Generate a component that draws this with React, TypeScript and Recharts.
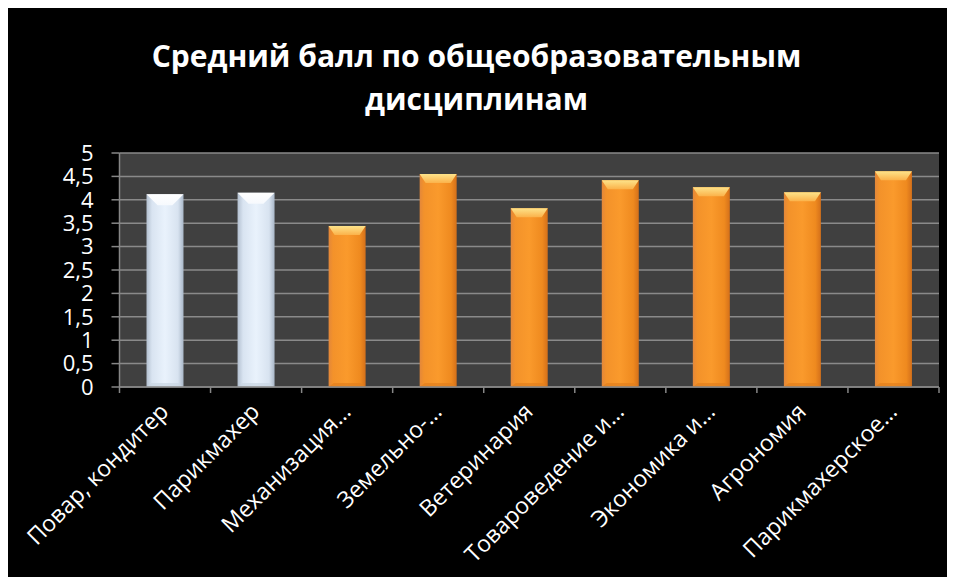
import React from 'react';
import { BarChart, Bar, XAxis, YAxis, CartesianGrid } from 'recharts';

const TITLE_LINES = ['Средний балл по общеобразовательным', 'дисциплинам'];

const CATEGORIES = [
  'Повар, кондитер',
  'Парикмахер',
  'Механизация…',
  'Земельно-…',
  'Ветеринария',
  'Товароведение и…',
  'Экономика и…',
  'Агрономия',
  'Парикмахерское…',
];

const VALUES = [4.12, 4.15, 3.44, 4.55, 3.82, 4.42, 4.27, 4.16, 4.61];

// first two professions are drawn in light blue, the rest in orange
const KINDS = ['light', 'light', 'orange', 'orange', 'orange', 'orange', 'orange', 'orange', 'orange'];

const Y_TICKS = [0, 0.5, 1, 1.5, 2, 2.5, 3, 3.5, 4, 4.5, 5];

const W = 947;
const H = 569;
const MARGIN = { top: 145, right: 16, bottom: 0, left: 0 };
const Y_AXIS_W = 111.5;
const X_AXIS_H = 190;
const PLOT_W = W - MARGIN.right - Y_AXIS_W;
const AXIS_GRAY = '#868686';

const data = CATEGORIES.map((name, i) => ({ name, value: VALUES[i], kind: KINDS[i] }));

const CategoryTick = (props: any) => {
  const { x, y, payload, index } = props;
  const step = PLOT_W / CATEGORIES.length;
  const tx = x + 5;
  const ty = y + 26;
  return (
    <g>
      <line x1={x - step / 2} y1={y} x2={x - step / 2} y2={y + 6} stroke={AXIS_GRAY} strokeWidth={1.5} />
      {index === CATEGORIES.length - 1 && (
        <line x1={x + step / 2} y1={y} x2={x + step / 2} y2={y + 6} stroke={AXIS_GRAY} strokeWidth={1.5} />
      )}
      <text
        x={tx}
        y={ty}
        transform={`rotate(-45 ${tx} ${ty})`}
        textAnchor="end"
        fill="#ffffff"
        fontSize={23}
      >
        {payload.value}
      </text>
    </g>
  );
};

const BevelBar = (props: any) => {
  const { x, y, width: w, height: h, payload } = props;
  if (!h || h <= 0) return null;
  const light = payload.kind === 'light';
  const bev = light ? 11 : 9;
  const inset = light ? w * 0.3 : 6;
  return (
    <g>
      <rect x={x} y={y} width={w} height={h} fill={light ? 'url(#lightBody)' : 'url(#orangeBody)'} />
      <polygon
        points={`${x},${y} ${x + w},${y} ${x + w - inset},${y + bev} ${x + inset},${y + bev}`}
        fill={light ? 'url(#lightTop)' : 'url(#orangeTop)'}
      />
      <polygon
        points={`${x},${y + h} ${x + w},${y + h} ${x + w - 5},${y + h - 4} ${x + 5},${y + h - 4}`}
        fill={light ? '#c9d5e3' : '#e27f1c'}
        opacity={0.7}
      />
    </g>
  );
};

export default function App() {
  return (
    <div
      style={{
        width: W,
        height: H,
        background: '#000000',
        position: 'relative',
        fontFamily: '"Open Sans", sans-serif',
      }}
    >
      <div
        style={{
          position: 'absolute',
          top: 26,
          left: 0,
          width: W - 10,
          textAlign: 'center',
          color: '#ffffff',
          fontWeight: 700,
          fontSize: 30,
          lineHeight: '43px',
        }}
      >
        {TITLE_LINES.map((t) => (
          <div key={t}>{t}</div>
        ))}
      </div>
      <BarChart width={W} height={H} data={data} margin={MARGIN} barSize={37}>
        <defs>
          <linearGradient id="lightBody" x1="0" y1="0" x2="1" y2="0">
            <stop offset="0%" stopColor="#b3c0d0" />
            <stop offset="15%" stopColor="#d9e4f1" />
            <stop offset="50%" stopColor="#e9f2fc" />
            <stop offset="85%" stopColor="#d8e3f0" />
            <stop offset="100%" stopColor="#a9b7c8" />
          </linearGradient>
          <linearGradient id="lightTop" x1="0" y1="0" x2="0" y2="1">
            <stop offset="0%" stopColor="#ffffff" />
            <stop offset="100%" stopColor="#f6f9fd" />
          </linearGradient>
          <linearGradient id="orangeBody" x1="0" y1="0" x2="1" y2="0">
            <stop offset="0%" stopColor="#e3873a" />
            <stop offset="12%" stopColor="#f3922a" />
            <stop offset="50%" stopColor="#fa9a2c" />
            <stop offset="85%" stopColor="#ef8a1f" />
            <stop offset="100%" stopColor="#d4701a" />
          </linearGradient>
          <linearGradient id="orangeTop" x1="0" y1="0" x2="0" y2="1">
            <stop offset="0%" stopColor="#fde38a" />
            <stop offset="100%" stopColor="#fbb24a" />
          </linearGradient>
        </defs>
        <CartesianGrid vertical={false} fill="#404040" stroke="#8a8a8a" strokeWidth={1.5} />
        <XAxis
          dataKey="name"
          interval={0}
          height={X_AXIS_H}
          tickLine={false}
          tickSize={0}
          tickMargin={0}
          axisLine={{ stroke: AXIS_GRAY, strokeWidth: 1.5 }}
          tick={<CategoryTick />}
        />
        <YAxis
          width={Y_AXIS_W}
          domain={[0, 5]}
          ticks={Y_TICKS}
          interval={0}
          tickFormatter={(v: number) => String(v).replace('.', ',')}
          tick={{ fill: '#ffffff', fontSize: 22 }}
          tickSize={8}
          tickMargin={18}
          tickLine={{ stroke: AXIS_GRAY, strokeWidth: 1.5 }}
          axisLine={{ stroke: AXIS_GRAY, strokeWidth: 1.5 }}
        />
        <Bar dataKey="value" shape={BevelBar} isAnimationActive={false} />
      </BarChart>
    </div>
  );
}
